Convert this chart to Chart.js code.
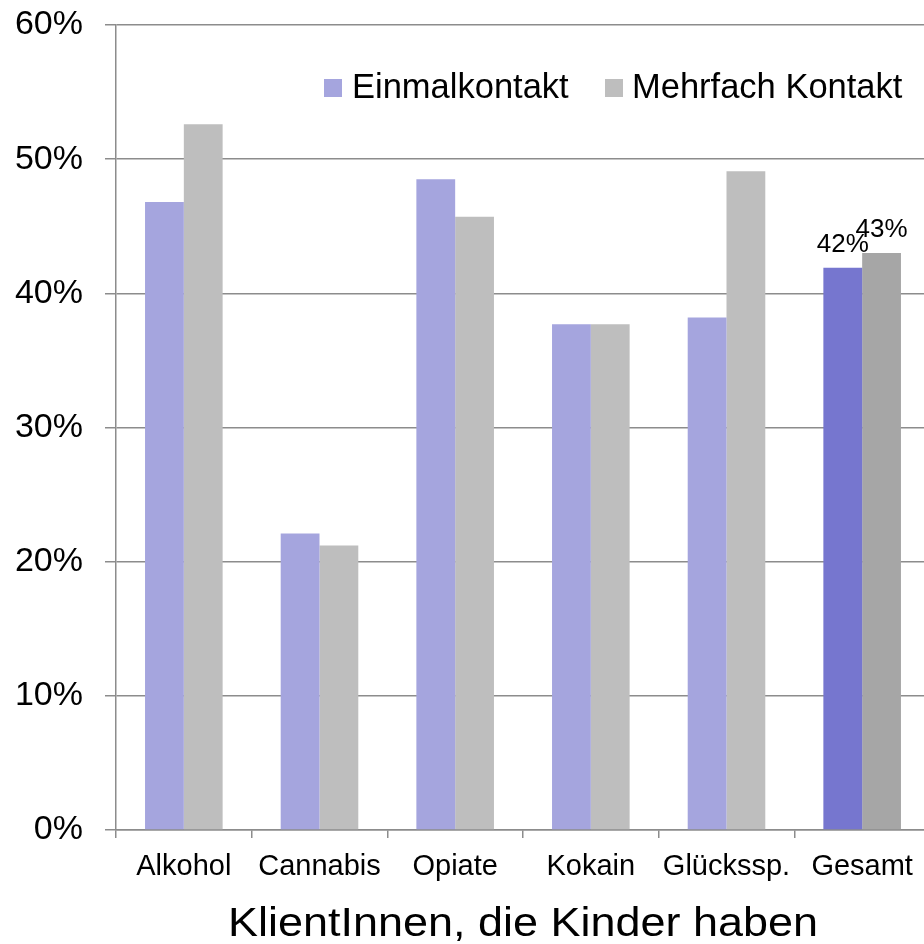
<!DOCTYPE html>
<html>
<head>
<meta charset="utf-8">
<script src="https://cdn.jsdelivr.net/npm/chart.js@4"></script>
<style>
    html, body { margin: 0; padding: 0; background: #fff; overflow: hidden; }
    .wrap { position: absolute; left: 0; top: 0; }
</style>
</head>
<body>
<div class="wrap">
    <canvas id="kinderChart" width="930" height="944"></canvas>
</div>
<script>
// Daten
const categories = ['Alkohol', 'Cannabis', 'Opiate', 'Kokain', 'Glückssp.', 'Gesamt'];
const einmalkontakt = [46.8, 22.1, 48.5, 37.7, 38.2, 41.9];
const mehrfachKontakt = [52.6, 21.2, 45.7, 37.7, 49.1, 43.0];
const yTicks = [0, 10, 20, 30, 40, 50, 60];
const seriesNames = ['Einmalkontakt', 'Mehrfach Kontakt'];
const axisTitle = 'KlientInnen, die Kinder haben';

const FONT = "'Liberation Sans', Arial, sans-serif";
const gridColor = '#8c8c8c';

// couleurs : clair pour les catégories, foncé pour "Gesamt"
const colors = [
    { light: '#a5a5de', dark: '#7676cf' },
    { light: '#bebebe', dark: '#a6a6a6' }
];

function barColor(i) {
    return (ctx) => ctx.dataIndex === categories.length - 1 ? colors[i].dark : colors[i].light;
}

// légende dans la zone du graphique
const legendPlugin = {
    id: 'innerLegend',
    afterDraw(chart) {
        const c = chart.ctx;
        const items = [
            { box: 324, text: 352 },
            { box: 605, text: 632 }
        ];
        c.save();
        c.font = '34.5px ' + FONT;
        c.textBaseline = 'alphabetic';
        c.textAlign = 'left';
        chart.data.datasets.forEach((ds, i) => {
            c.fillStyle = colors[i].light;
            c.fillRect(items[i].box, 79, 18, 18);
            c.fillStyle = '#000';
            c.fillText(ds.label, items[i].text, 97.5);
        });
        c.restore();
    }
};

// étiquettes de valeur pour "Gesamt" + titre de l'axe
const labelPlugin = {
    id: 'valueLabels',
    afterDatasetsDraw(chart) {
        const c = chart.ctx;
        const last = categories.length - 1;
        c.save();
        c.font = '26px ' + FONT;
        c.fillStyle = '#000';
        c.textAlign = 'center';
        c.textBaseline = 'alphabetic';
        chart.data.datasets.forEach((ds, i) => {
            const bar = chart.getDatasetMeta(i).data[last];
            c.fillText(Math.round(ds.data[last]) + '%', bar.x, bar.y - 16);
        });
        // titre un peu étiré comme dans l'original
        c.font = '40px ' + FONT;
        c.textAlign = 'left';
        const w = c.measureText(axisTitle).width;
        c.translate(228, 936);
        c.scale(590 / w, 1);
        c.fillText(axisTitle, 0, 0);
        c.restore();
    }
};

new Chart(document.getElementById('kinderChart').getContext('2d'), {
    type: 'bar',
    data: {
        labels: categories,
        datasets: [
            { label: seriesNames[0], data: einmalkontakt, backgroundColor: barColor(0) },
            { label: seriesNames[1], data: mehrfachKontakt, backgroundColor: barColor(1) }
        ]
    },
    options: {
        responsive: false,
        animation: false,
        devicePixelRatio: 1,
        layout: { padding: { top: 25, left: 0, right: 0, bottom: 0 } },
        datasets: {
            bar: { categoryPercentage: 0.572, barPercentage: 1.0 }
        },
        plugins: {
            legend: { display: false },
            tooltip: { enabled: false }
        },
        scales: {
            x: {
                offset: true,
                afterFit: (scale) => { scale.height = 114; },
                grid: {
                    offset: true,
                    drawOnChartArea: false,
                    drawTicks: true,
                    tickLength: 8,
                    color: gridColor,
                    lineWidth: 1.5
                },
                border: { display: true, color: gridColor, width: 1.5 },
                ticks: {
                    color: '#000',
                    padding: 12,
                    maxRotation: 0,
                    font: { family: FONT, size: 29 }
                }
            },
            y: {
                min: 0,
                max: 60,
                afterFit: (scale) => {
                    scale.width = 116;
                    scale.paddingTop = 0;
                    scale.paddingBottom = 0;
                },
                afterBuildTicks: (scale) => { scale.ticks = yTicks.map(v => ({ value: v })); },
                grid: {
                    color: gridColor,
                    lineWidth: 1.5,
                    tickLength: 11
                },
                border: { display: true, color: gridColor, width: 1.5 },
                ticks: {
                    color: '#000',
                    padding: 22,
                    font: { family: FONT, size: 34 },
                    callback: (v) => v + '%'
                }
            }
        }
    },
    plugins: [legendPlugin, labelPlugin]
});
</script>
</body>
</html>
